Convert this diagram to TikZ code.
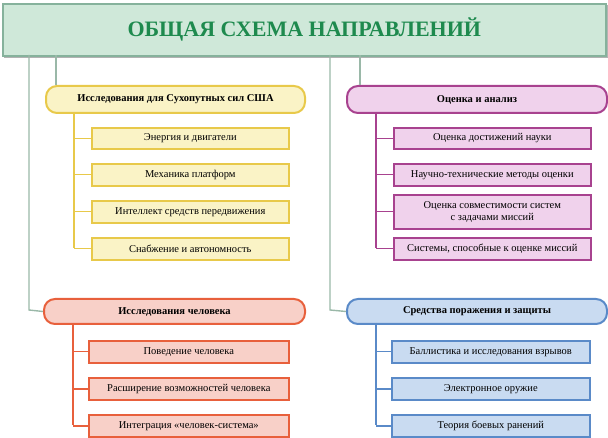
\documentclass[tikz,border=0pt]{standalone}
\usepackage{fontspec}
\setmainfont{Liberation Serif}
\begin{document}
\begin{tikzpicture}[x=1pt,y=-1pt,
  ln/.style={line width=1.4pt},
  hd/.style={rounded corners=11pt,line width=2pt,font=\bfseries\fontsize{10.5}{12}\selectfont},
  it/.style={line width=1.6pt,font=\fontsize{10.5}{12}\selectfont,align=center}]
\useasboundingbox (0,0) rectangle (608,438);
\definecolor{tg}{HTML}{1E8A4E}\definecolor{tf}{HTML}{CFE8D9}\definecolor{tb}{HTML}{86B29C}
\definecolor{gl}{HTML}{9AB8A8}
\definecolor{yf}{HTML}{FAF3C6}\definecolor{yb}{HTML}{E8C94A}
\definecolor{pf}{HTML}{F0D2EC}\definecolor{pb}{HTML}{A8428F}
\definecolor{rf}{HTML}{F8D0C8}\definecolor{rb}{HTML}{E8603C}
\definecolor{bf}{HTML}{C9DBF1}\definecolor{bb}{HTML}{5A8AC8}
% title
\fill[gray!60] (4,5) rectangle (608,58);
\node[draw=tb,fill=tf,line width=1.6pt,minimum width=603pt,minimum height=52pt,anchor=north west,inner sep=0pt] (t) at (2,3) {};
\node[text=tg,font=\bfseries\fontsize{22}{26}\selectfont] at (t.center) {ОБЩАЯ СХЕМА НАПРАВЛЕНИЙ};
% headers
\node[hd,draw=yb,fill=yf,minimum width=259pt,minimum height=27pt,anchor=north west] (y) at (45,85) {Исследования для Сухопутных сил США};
\node[hd,draw=pb,fill=pf,minimum width=260pt,minimum height=27pt,anchor=north west] (p) at (346,85) {Оценка и анализ};
\node[hd,draw=rb,fill=rf,minimum width=261pt,minimum height=25pt,anchor=north west] (r) at (43,298) {Исследования человека};
\node[hd,draw=bb,fill=bf,minimum width=260pt,minimum height=25pt,anchor=north west] (b) at (346,298) {Средства поражения и защиты};
% trunk lines
\draw[ln,gl] (56,55) -- (56,85);
\draw[ln,gl] (360,55) -- (360,85);
\draw[ln,gl] (29,55) -- (29,310) -- (r.west);
\draw[ln,gl] (330,55) -- (330,310) -- (b.west);
% items
\foreach \n/\yy/\h/\t in {y1/127/21/Энергия и двигатели, y2/163/22/Механика платформ, y3/200/22/Интеллект средств передвижения, y4/237/22/Снабжение и автономность}
  \node[it,draw=yb,fill=yf,minimum width=197pt,minimum height=\h pt,anchor=north west] (\n) at (91,\yy) {\t};
\foreach \n/\yy/\h/\t in {p1/127/21/Оценка достижений науки, p2/163/22/Научно-технические методы оценки, p3/194/34/{Оценка совместимости систем\\с задачами миссий}, p4/237/22/{Системы, способные к оценке миссий}}
  \node[it,draw=pb,fill=pf,minimum width=197pt,minimum height=\h pt,anchor=north west,inner sep=1pt] (\n) at (393,\yy) {\t};
\foreach \n/\yy/\t in {r1/340/Поведение человека, r2/377/Расширение возможностей человека, r3/414/Интеграция «человек-система»}
  \node[it,draw=rb,fill=rf,minimum width=200pt,minimum height=22pt,anchor=north west] (\n) at (88,\yy) {\t};
\foreach \n/\yy/\t in {b1/340/Баллистика и исследования взрывов, b2/377/Электронное оружие, b3/414/Теория боевых ранений}
  \node[it,draw=bb,fill=bf,minimum width=198pt,minimum height=22pt,anchor=north west] (\n) at (391,\yy) {\t};
% connectors
\draw[ln,yb] (74,112) -- (74,248);
\foreach \n in {y1,y2,y3,y4} \draw[ln,yb] (74,0 |- \n.west) -- (\n.west);
\draw[ln,pb] (376,112) -- (376,248);
\foreach \n in {p1,p2,p3,p4} \draw[ln,pb] (376,0 |- \n.west) -- (\n.west);
\draw[ln,rb] (73,323) -- (73,425);
\foreach \n in {r1,r2,r3} \draw[ln,rb] (73,0 |- \n.west) -- (\n.west);
\draw[ln,bb] (376,323) -- (376,425);
\foreach \n in {b1,b2,b3} \draw[ln,bb] (376,0 |- \n.west) -- (\n.west);
\end{tikzpicture}
\end{document}
